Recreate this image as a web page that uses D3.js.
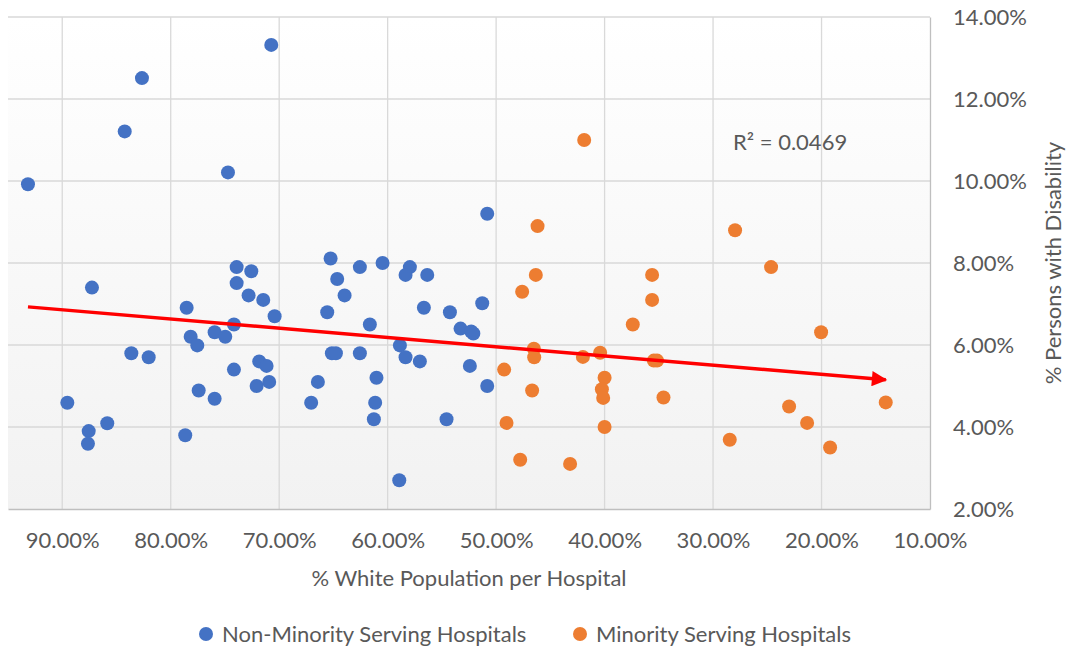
<!DOCTYPE html>
<html><head><meta charset="utf-8">
<script src="https://cdn.jsdelivr.net/npm/d3@7"></script>
<style>html,body{margin:0;padding:0;background:#fff;} svg{display:block;font-family:Lato, "Open Sans", sans-serif;}</style>
</head><body>
<svg id="c" width="1067" height="651"></svg>
<script>
// % White population (x), % persons with disability (y)
const nonMinorityX = [0.9316,0.8424,0.8265,0.7073,0.7472,0.5082,0.6526,0.7392,0.7257,0.7392,0.6465,0.6256,0.6047,0.5795,0.5835,0.5635,0.8726,0.7282,0.6397,0.5128,0.7147,0.7042,0.7853,0.7417,0.7816,0.7755,0.7595,0.7497,0.8363,0.8203,0.8953,0.8756,0.8763,0.8585,0.7866,0.7742,0.7595,0.7417,0.7184,0.7116,0.7208,0.7092,0.6557,0.6164,0.5666,0.5426,0.5328,0.5230,0.5210,0.6514,0.6477,0.6256,0.5887,0.5835,0.5703,0.5242,0.5082,0.6643,0.6705,0.6103,0.6115,0.6127,0.5457,0.5893];
const nonMinorityY = [0.0992,0.1121,0.1251,0.1332,0.1021,0.0920,0.0811,0.0790,0.0780,0.0751,0.0761,0.0790,0.0800,0.0790,0.0771,0.0771,0.0740,0.0721,0.0721,0.0702,0.0710,0.0670,0.0691,0.0650,0.0620,0.0599,0.0631,0.0620,0.0580,0.0570,0.0459,0.0390,0.0359,0.0409,0.0380,0.0489,0.0469,0.0540,0.0560,0.0549,0.0500,0.0510,0.0680,0.0650,0.0691,0.0680,0.0640,0.0633,0.0628,0.0580,0.0580,0.0580,0.0599,0.0570,0.0560,0.0549,0.0500,0.0510,0.0459,0.0520,0.0459,0.0419,0.0419,0.0270];
const minorityX = [0.4188,0.4618,0.2797,0.4634,0.4760,0.3562,0.3562,0.2465,0.3740,0.2004,0.4652,0.4649,0.4200,0.4041,0.3546,0.3516,0.4926,0.4000,0.4668,0.4025,0.4013,0.3457,0.4904,0.4778,0.4318,0.4000,0.2846,0.2299,0.2133,0.1921,0.1408];
const minorityY = [0.1100,0.0890,0.0880,0.0771,0.0730,0.0771,0.0710,0.0790,0.0650,0.0631,0.0591,0.0570,0.0571,0.0581,0.0562,0.0562,0.0540,0.0520,0.0489,0.0492,0.0471,0.0472,0.0410,0.0320,0.0310,0.0400,0.0369,0.0450,0.0410,0.0350,0.0460];
const xTicks = [0.9,0.8,0.7,0.6,0.5,0.4,0.3,0.2,0.1];
const yTicks = [0.02,0.04,0.06,0.08,0.10,0.12,0.14];
const seriesNames = ["Non-Minority Serving Hospitals","Minority Serving Hospitals"];
const seriesColors = ["#4472c4","#ed7d31"];
const trendSlope = 0.02251;      // linear trendline
const trendIntercept = 0.04833;
const rSquaredLabel = "R² = 0.0469";

const FS = 22;
const svg = d3.select("#c");
const x = d3.scaleLinear().domain([0.95, 0.10]).range([8, 930]);
const y = d3.scaleLinear().domain([0.02, 0.14]).range([509, 17]);
const fmt = d3.format(".2%");

const defs = svg.append("defs");
const g = defs.append("linearGradient").attr("id","bg").attr("x1",0).attr("y1",0).attr("x2",0).attr("y2",1);
g.append("stop").attr("offset","0%").attr("stop-color","#ffffff");
g.append("stop").attr("offset","100%").attr("stop-color","#f2f2f2");
defs.append("marker").attr("id","arrow").attr("viewBox","0 0 10 10").attr("refX",9).attr("refY",5)
  .attr("markerWidth",4.6).attr("markerHeight",4.4).attr("markerUnits","strokeWidth").attr("orient","auto")
  .append("path").attr("d","M0,0L10,5L0,10Z").attr("fill","#ff0000");

svg.append("rect").attr("x",x(0.95)).attr("y",y(0.14)).attr("width",x(0.10)-x(0.95)).attr("height",y(0.02)-y(0.14)).attr("fill","url(#bg)");

// gridlines
svg.append("g").selectAll("line").data(xTicks.slice(0,-1)).join("line")
  .attr("x1",d=>x(d)).attr("x2",d=>x(d)).attr("y1",y(0.14)).attr("y2",y(0.02))
  .attr("stroke","#d9d9d9").attr("stroke-width",1.3);
svg.append("g").selectAll("line").data(yTicks.slice(1)).join("line")
  .attr("x1",x(0.95)).attr("x2",x(0.10)).attr("y1",d=>y(d)).attr("y2",d=>y(d))
  .attr("stroke","#d9d9d9").attr("stroke-width",1.3);

// axes
const xAxis = svg.append("g").attr("transform",`translate(0,${y(0.02)})`)
  .call(d3.axisBottom(x).tickValues(xTicks).tickFormat(fmt).tickSize(0).tickPadding(0));
xAxis.select(".domain").attr("stroke","#bfbfbf").attr("stroke-width",1.3);
xAxis.selectAll("text").attr("fill","#595959").attr("font-size",FS).attr("font-family","Lato").attr("dy",39);

const yAxis = svg.append("g").attr("transform",`translate(${x(0.10)},0)`)
  .call(d3.axisRight(y).tickValues(yTicks).tickFormat(fmt).tickSize(0).tickPadding(23));
yAxis.select(".domain").attr("stroke","#bfbfbf").attr("stroke-width",1.3);
yAxis.selectAll("text").attr("fill","#595959").attr("font-size",FS).attr("font-family","Lato");

// axis titles
svg.append("text").attr("x",(x(0.95)+x(0.10))/2).attr("y",586).attr("text-anchor","middle")
  .attr("fill","#595959").attr("font-size",FS).text("% White Population per Hospital");
svg.append("text").attr("transform",`translate(1061,${(y(0.14)+y(0.02))/2}) rotate(-90)`).attr("text-anchor","middle")
  .attr("fill","#595959").attr("font-size",FS).text("% Persons with Disability");

// points
const series = [d3.zip(nonMinorityX, nonMinorityY), d3.zip(minorityX, minorityY)];
series.forEach((pts,i)=>{
  svg.append("g").selectAll("circle").data(pts).join("circle")
    .attr("cx",d=>x(d[0])).attr("cy",d=>y(d[1])).attr("r",7).attr("fill",seriesColors[i]);
});

// trendline over full data range
const allX = nonMinorityX.concat(minorityX);
const [xmin,xmax] = d3.extent(allX);
svg.append("line").attr("x1",x(xmax)).attr("y1",y(trendSlope*xmax+trendIntercept))
  .attr("x2",x(xmin)).attr("y2",y(trendSlope*xmin+trendIntercept))
  .attr("stroke","#ff0000").attr("stroke-width",3.5).attr("marker-end","url(#arrow)");

svg.append("text").attr("x",733).attr("y",150).attr("fill","#595959").attr("font-size",FS).text(rSquaredLabel);

// legend
const legendPos = [206, 580];
seriesNames.forEach((n,i)=>{
  svg.append("circle").attr("cx",legendPos[i]).attr("cy",634).attr("r",7).attr("fill",seriesColors[i]);
  svg.append("text").attr("x",legendPos[i]+16).attr("y",642).attr("fill","#595959").attr("font-size",FS).text(n);
});
</script>
</body></html>
